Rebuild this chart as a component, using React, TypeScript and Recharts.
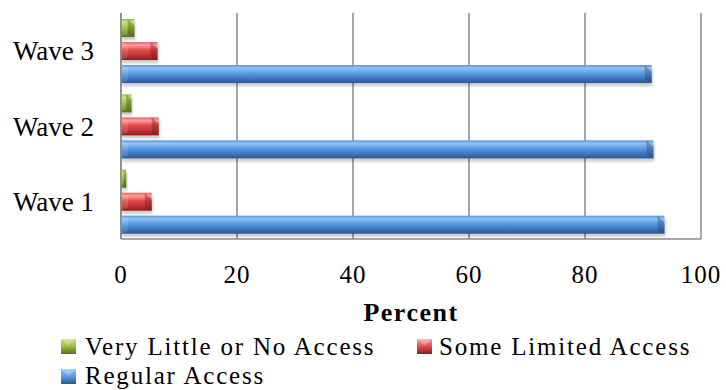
import React from 'react';
import { BarChart, Bar, XAxis, YAxis, CartesianGrid, Legend } from 'recharts';

const waves = ['Wave 1', 'Wave 2', 'Wave 3'];
const veryLittle = [0.9, 1.8, 2.3];
const someLimited = [5.3, 6.5, 6.3];
const regular = [93.7, 91.8, 91.5];
const xTicks = [0, 20, 40, 60, 80, 100];

const seriesNames = ['Very Little or No Access', 'Some Limited Access', 'Regular Access'];

const data = waves
  .map((w, i) => ({ wave: w, veryLittle: veryLittle[i], someLimited: someLimited[i], regular: regular[i] }))
  .reverse();

const FONT = '"Liberation Serif", "Times New Roman", serif';

const series = [
  { key: 'veryLittle', name: seriesNames[0], gid: 'gGreen', dark: '#3f5410', stops: ['#9cbf45', '#c6e07a', '#9dbd40', '#7d9c2a', '#56701a'] },
  { key: 'someLimited', name: seriesNames[1], gid: 'gRed', dark: '#6a1212', stops: ['#e06868', '#ff9c9c', '#e04a4a', '#c33434', '#8c1e1e'] },
  { key: 'regular', name: seriesNames[2], gid: 'gBlue', dark: '#1d3f70', stops: ['#5c95d8', '#8fc3f6', '#5b9be2', '#3f78c2', '#2c568e'] },
];

const BevelBar = (props: any) => {
  const { x, y, width, height, gid, dark } = props;
  if (!width || width <= 0) return null;
  const b = Math.min(7, width / 2);
  return (
    <g>
      <rect x={x + 1} y={y + 3} width={width} height={height} fill="#000" opacity={0.22} filter="url(#blurShadow)" />
      <rect x={x} y={y} width={width} height={height} fill={`url(#${gid})`} />
      <polygon
        points={`${x + width - b},${y} ${x + width},${y + b} ${x + width},${y + height} ${x + width - b},${y + height - 3}`}
        fill={dark}
        opacity={0.35}
      />
      <polygon points={`${x},${y} ${x + b},${y + 3} ${x + b},${y + height - 3} ${x},${y + height}`} fill="#fff" opacity={0.12} />
    </g>
  );
};

const legendRows = [
  { idx: 0, iconX: 61, textX: 85, iconY: 339, baseY: 355 },
  { idx: 1, iconX: 417, textX: 439, iconY: 339, baseY: 355 },
  { idx: 2, iconX: 61, textX: 85, iconY: 369, baseY: 384 },
];

const LegendContent = () => (
  <svg width={726} height={60} style={{ display: 'block' }}>
    {legendRows.map((r) => {
      const s = series[r.idx];
      const top = r.iconY - 330;
      return (
        <g key={s.key}>
          <rect x={r.iconX} y={top} width={15} height={15} fill={`url(#${s.gid}L)`} />
          <polygon points={`${r.iconX},${top} ${r.iconX + 15},${top} ${r.iconX + 7.5},${top + 7}`} fill="#fff" opacity={0.25} />
          <text x={r.textX} y={r.baseY - 330} fontFamily={FONT} fontSize={25} letterSpacing={1.8} fill="#000">
            {s.name}
          </text>
        </g>
      );
    })}
    <defs>
      {series.map((s) => (
        <linearGradient key={s.gid} id={`${s.gid}L`} x1="0" y1="0" x2="0" y2="1">
          <stop offset="0%" stopColor={s.stops[1]} />
          <stop offset="50%" stopColor={s.stops[2]} />
          <stop offset="100%" stopColor={s.stops[4]} />
        </linearGradient>
      ))}
    </defs>
  </svg>
);

export default function App() {
  return (
    <div style={{ position: 'absolute', left: 0, top: 0, width: 726, height: 390, background: '#fff' }}>
      <BarChart
        width={726}
        height={390}
        data={data}
        layout="vertical"
        margin={{ top: 13, right: 25, left: 0, bottom: 0 }}
        barSize={18}
        barGap={5}
      >
        <defs>
          {series.map((s) => (
            <linearGradient key={s.gid} id={s.gid} x1="0" y1="0" x2="0" y2="1">
              <stop offset="0%" stopColor={s.stops[0]} />
              <stop offset="18%" stopColor={s.stops[1]} />
              <stop offset="45%" stopColor={s.stops[2]} />
              <stop offset="72%" stopColor={s.stops[3]} />
              <stop offset="100%" stopColor={s.stops[4]} />
            </linearGradient>
          ))}
          <filter id="blurShadow" x="-10%" y="-50%" width="120%" height="200%">
            <feGaussianBlur stdDeviation="1.5" />
          </filter>
        </defs>
        <CartesianGrid horizontal={false} vertical={true} stroke="#8a8a8a" strokeWidth={1.5} />
        <XAxis
          type="number"
          domain={[0, 100]}
          ticks={xTicks}
          interval={0}
          height={91}
          axisLine={{ stroke: '#8a8a8a', strokeWidth: 1.5 }}
          tickLine={false}
          tickSize={0}
          tickMargin={26}
          tick={{ fill: '#000', fontFamily: FONT, fontSize: 25, letterSpacing: 1 }}
          label={{
            content: (p: any) => {
              const vb = p.viewBox || {};
              return (
                <text
                  x={vb.x + vb.width / 2}
                  y={vb.y + 82}
                  textAnchor="middle"
                  fontFamily={FONT}
                  fontWeight="bold"
                  fontSize={26}
                  letterSpacing={1.5}
                  fill="#000"
                >
                  Percent
                </text>
              );
            },
          }}
        />
        <YAxis
          type="category"
          dataKey="wave"
          width={121}
          axisLine={{ stroke: '#8a8a8a', strokeWidth: 1.5 }}
          tickLine={false}
          tickSize={0}
          tickMargin={27}
          tick={{ fill: '#000', fontFamily: FONT, fontSize: 27 }}
        />
        <Legend verticalAlign="bottom" height={60} wrapperStyle={{ left: 0, bottom: 0, width: 726, height: 60 }} content={<LegendContent />} />
        {series.map((s) => (
          <Bar
            key={s.key}
            dataKey={s.key}
            name={s.name}
            fill={s.stops[2]}
            isAnimationActive={false}
            shape={(p: any) => <BevelBar {...p} gid={s.gid} dark={s.dark} />}
          />
        ))}
      </BarChart>
    </div>
  );
}
